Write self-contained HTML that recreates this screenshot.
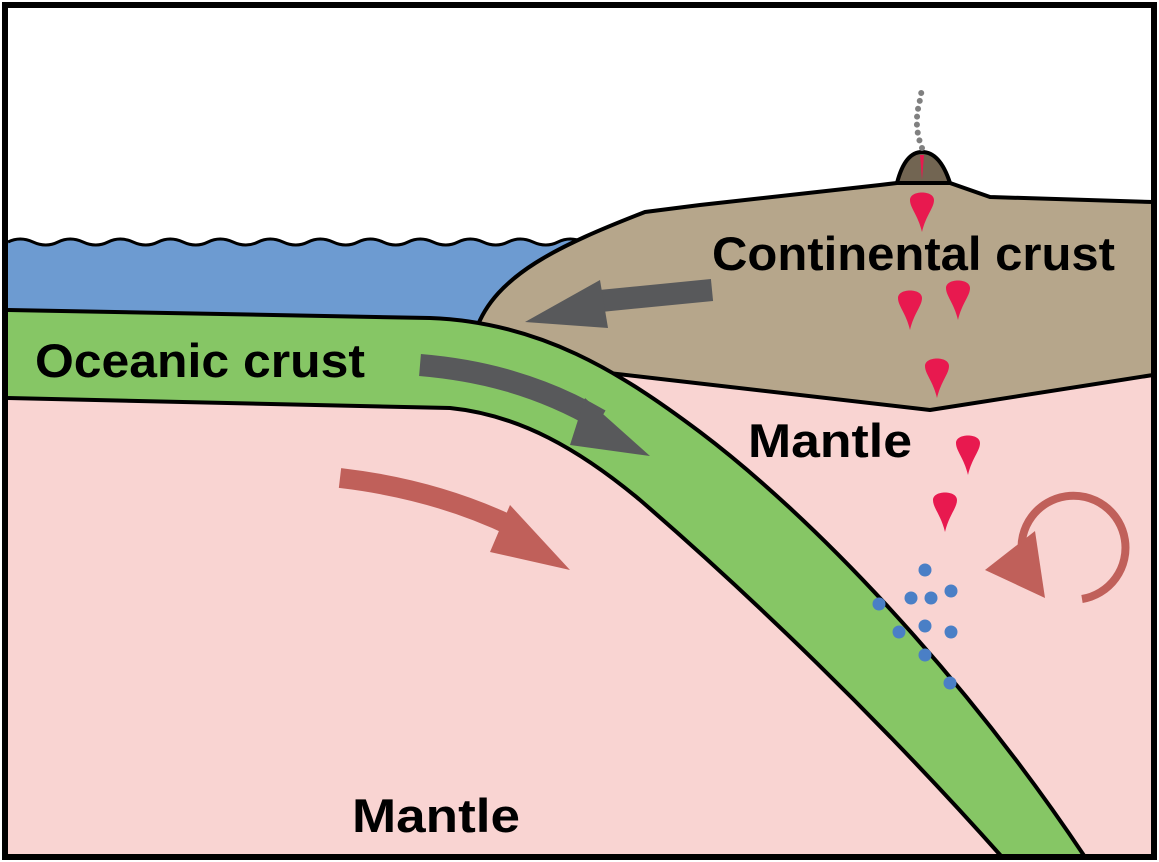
<!DOCTYPE html>
<html><head><style>html,body{margin:0;padding:0;background:#fff}svg{display:block}</style></head><body>
<svg width="1159" height="862" viewBox="0 0 1159 862" xmlns="http://www.w3.org/2000/svg">
<rect x="0" y="0" width="1159" height="862" fill="#fff"/>
<rect x="8" y="300" width="1145" height="556" fill="#f9d4d2"/>
<path d="M8,242 Q20,236 33,242 T58,242 T83,242 T108,242 T133,242 T158,242 T183,242 T208,242 T233,242 T258,242 T283,242 T308,242 T333,242 T358,242 T383,242 T408,242 T433,242 T458,242 T483,242 T508,242 T533,242 T558,242 T583,242 T620,240 L648,240 L648,344 L8,344 Z" fill="#6d9bd1" stroke="none"/>
<path d="M8,242 Q20,236 33,242 T58,242 T83,242 T108,242 T133,242 T158,242 T183,242 T208,242 T233,242 T258,242 T283,242 T308,242 T333,242 T358,242 T383,242 T408,242 T433,242 T458,242 T483,242 T508,242 T533,242 T558,242 T583,242 T620,240" fill="none" stroke="#000" stroke-width="3"/>
<path d="M476,330 C495,275 560,245 645,212 L700,205 L880,185 L897,183 L950,183 L990,197 L1153,202 L1153,375 L930,410 L600,372 Z" fill="#b6a68b" stroke="#000" stroke-width="4" stroke-linejoin="round"/>
<path d="M897,183 Q905,152 922,152 Q940,152 950,183 Z" fill="#726552" stroke="#000" stroke-width="4" stroke-linejoin="round"/>
<path d="M920,155 L924,155 L922,180 Z" fill="#e8194f"/>
<path d="M922,148 C915,130 916,115 920,100 C922,93 921,90 921,86" fill="none" stroke="#808080" stroke-width="6" stroke-linecap="round" stroke-dasharray="0 8"/>
<path d="M8,310 L430,318 C540,322 620,372 700,432 C810,515 960,670 1085,857 L1002,857 C880,720 750,595 640,500 C580,450 520,415 450,408 L8,398 Z" fill="#86c665"/>
<path d="M8,310 L430,318 C540,322 620,372 700,432 C810,515 960,670 1085,857" fill="none" stroke="#000" stroke-width="4"/>
<path d="M8,398 L450,408 C520,415 580,450 640,500 C750,595 880,720 1002,857" fill="none" stroke="#000" stroke-width="4"/>
<path d="M712,290 L590,302" stroke="#58595b" stroke-width="22" fill="none"/>
<path d="M600,280 L525,322 L608,328 Z" fill="#58595b"/>
<path d="M420,365 C480,370 540,385 600,420" stroke="#58595b" stroke-width="22" fill="none"/>
<path d="M585,398 L650,456 L570,445 Z" fill="#58595b"/>
<path d="M340,478 C400,485 460,500 520,530" stroke="#c0605a" stroke-width="20" fill="none"/>
<path d="M510,505 L570,570 L490,552 Z" fill="#c0605a"/>
<path d="M1082,599 A52,52 0 1 0 1022,555" stroke="#c0605a" stroke-width="8" fill="none"/>
<path d="M985,570 L1035,531 L1045,598 Z" fill="#c0605a"/>
<g fill="#e8194f">
<path d="M922,232 C918,215 910,208 910,200 C910,190 934,190 934,200 C934,208 926,215 922,232 Z"/>
<path d="M910,330 C906,313 898,306 898,298 C898,288 922,288 922,298 C922,306 914,313 910,330 Z"/>
<path d="M958,320 C954,303 946,296 946,288 C946,278 970,278 970,288 C970,296 962,303 958,320 Z"/>
<path d="M937,398 C933,381 925,374 925,366 C925,356 949,356 949,366 C949,374 941,381 937,398 Z"/>
<path d="M968,475 C964,458 956,451 956,443 C956,433 980,433 980,443 C980,451 972,458 968,475 Z"/>
<path d="M945,532 C941,515 933,508 933,500 C933,490 957,490 957,500 C957,508 949,515 945,532 Z"/>
</g>
<g fill="#4a7fc6">
<circle cx="925" cy="570" r="6.5"/><circle cx="911" cy="598" r="6.5"/><circle cx="931" cy="598" r="6.5"/><circle cx="951" cy="591" r="6.5"/><circle cx="879" cy="604" r="6.5"/><circle cx="925" cy="626" r="6.5"/><circle cx="899" cy="632" r="6.5"/><circle cx="951" cy="632" r="6.5"/><circle cx="925" cy="655" r="6.5"/><circle cx="950" cy="683" r="6.5"/>
</g>
<g font-family="'Liberation Sans Narrow','Liberation Sans',sans-serif" font-weight="bold" font-size="47" fill="#000">
<text x="712" y="270" textLength="403" lengthAdjust="spacingAndGlyphs">Continental crust</text>
<text x="35" y="377" textLength="330" lengthAdjust="spacingAndGlyphs">Oceanic crust</text>
<text x="748" y="457" textLength="164" lengthAdjust="spacingAndGlyphs">Mantle</text>
<text x="352" y="832" textLength="168" lengthAdjust="spacingAndGlyphs">Mantle</text>
</g>
<rect x="5" y="5" width="1149" height="852" fill="none" stroke="#000" stroke-width="6"/>
</svg>
</body></html>
